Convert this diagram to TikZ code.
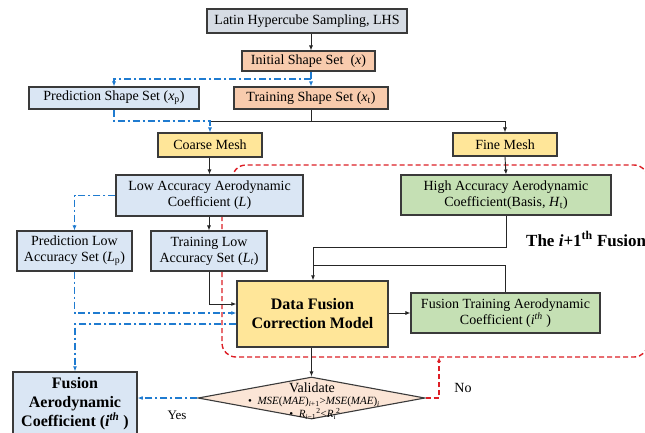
\documentclass[tikz,border=0pt]{standalone}
\usepackage{fontspec}
\setmainfont{Liberation Serif}
\usetikzlibrary{arrows.meta,shapes.geometric}
\definecolor{edge}{HTML}{3A3A3A}
\definecolor{grayfill}{HTML}{D6DCE4}
\definecolor{salmon}{HTML}{F8CBAD}
\definecolor{lightblue}{HTML}{DAE6F4}
\definecolor{mesh}{HTML}{FFE699}
\definecolor{lightgreen}{HTML}{C5E0B4}
\definecolor{peach}{HTML}{FBE5D6}
\definecolor{flowblue}{HTML}{1F7BD0}
\definecolor{loopred}{HTML}{DD1F26}
\begin{document}
\begin{tikzpicture}[x=1pt,y=-1pt,
  box/.style={draw=edge, line width=1.1pt, inner sep=0pt, align=center,
    font=\fontsize{14}{16}\selectfont},
  boldbox/.style={box, font=\fontsize{16}{19}\selectfont\bfseries},
  arr/.style={-{Latex[length=5pt,width=4pt]}},
  link/.style={draw=black!85, line width=0.9pt},
  bluelink/.style={draw=flowblue, line width=1.2pt,
    dash pattern=on 7pt off 3pt on 2pt off 3pt},
  redlink/.style={draw=loopred, line width=1.4pt, dash pattern=on 5pt off 3pt},
  lbl/.style={inner sep=0pt, font=\fontsize{14}{16}\selectfont}
]
\useasboundingbox (0,0) rectangle (645,432);
\clip (0,0) rectangle (645,432);
\fill[white] (0,0) rectangle (645,432);

% iteration loop boundary (drawn first, the boxes cover it)
\draw[redlink, rounded corners=14pt]
  (222,216) -- (222,357) -- (648,357) -- (648,165) -- (232,165) -- (232,190);

% boxes
\node[box, fill=grayfill, minimum width=200, minimum height=24] (lhs) at (307,21) {Latin Hypercube Sampling, LHS};
\node[box, fill=salmon, minimum width=133, minimum height=20] (init) at (308.5,61) {Initial Shape Set~ (\textit{x})};
\node[box, fill=salmon, minimum width=154, minimum height=22] (train) at (311,98) {Training Shape Set (\textit{x}\textsubscript{t})};
\node[box, fill=lightblue, minimum width=170, minimum height=22] (pred) at (114,98) {Prediction Shape Set (\textit{x}\textsubscript{p})};
\node[box, fill=mesh, minimum width=104, minimum height=24] (coarse) at (210,145) {Coarse Mesh};
\node[box, fill=mesh, minimum width=104, minimum height=23] (fine) at (505,144.5) {Fine Mesh};
\node[box, fill=lightblue, minimum width=187, minimum height=41] (low) at (209.5,195.5) {Low Accuracy Aerodynamic\\Coefficient (\textit{L})};
\node[box, fill=lightgreen, minimum width=210, minimum height=40] (high) at (506,195) {High Accuracy Aerodynamic\\Coefficient(Basis, \textit{H}\textsubscript{t})};
\node[box, fill=lightblue, minimum width=115, minimum height=40] (lp) at (74.5,251) {Prediction Low\\Accuracy Set (\textit{L}\textsubscript{p})};
\node[box, fill=lightblue, minimum width=116, minimum height=40] (lt) at (209,251) {Training Low\\Accuracy Set (\textit{L\textsubscript{t}})};
\node[boldbox, fill=mesh, line width=1.3pt, minimum width=151, minimum height=66] (df) at (312.5,314) {Data Fusion\\Correction Model};
\node[box, fill=lightgreen, minimum width=189, minimum height=40] (ft) at (505.5,313) {Fusion Training Aerodynamic\\Coefficient (\textit{i}\textsuperscript{\textit{th}} )};
\node[boldbox, fill=lightblue, line width=1.3pt, minimum width=124, minimum height=64] (fa) at (75,404) {Fusion\\Aerodynamic\\Coefficient (\textit{i}\textsuperscript{\textit{th}} )};
\node[diamond, draw=edge, fill=peach, line width=1.1pt, inner sep=0pt,
  minimum width=227, minimum height=42] (val) at (311.5,398) {};
\node[lbl] (valtitle) at (312,387.5) {Validate};
\node[lbl, font=\fontsize{11}{12}\selectfont] (valone) at (314,402)
  {•~ \textit{MSE}(\textit{MAE})\textsubscript{\textit{i}+1}>\textit{MSE}(\textit{MAE})\textsubscript{\textit{i}}};
\node[lbl, font=\fontsize{11}{12}\selectfont] (valtwo) at (315,414)
  {•~ \textit{R}\textsubscript{\textit{i}−1}\textsuperscript{2}<\textit{R}\textsubscript{\textit{i}}\textsuperscript{2}};

% labels
\node[lbl, font=\fontsize{17}{20}\selectfont\bfseries, anchor=west] (looplabel) at (526,239)
  {The \textit{i}+1\textsuperscript{th} Fusion};
\node[lbl, font=\fontsize{13}{15}\selectfont] (yes) at (177,415) {Yes};
\node[lbl] (no) at (463,388) {No};

% junction points
\coordinate (split) at (train.north |- 0,79);
\coordinate (meshbus) at (train.south |- 0,121);
\coordinate (highbus) at (high.south |- 0,247);
\coordinate (dfin) at (313,247);
\coordinate (ftbus) at (ft.north |- 0,265);
\coordinate (noturn) at (439,398);
\coordinate (noend) at (439,357);

% main flow
\draw[link, arr] (lhs.south -| train) -- (init.north -| train);
\draw[link] (train.south) -- (meshbus);
\draw[link] (coarse.north |- meshbus) -- (fine.north |- meshbus);
\draw[link, arr] (fine.north |- meshbus) -- (fine.north);
\draw[link, arr] (coarse.south -| low) -- (low.north);
\draw[link, arr] (fine.south) -- (high.north);
\draw[link, arr] (low.south -| lt) -- (lt.north);
\draw[link, arr] (lt.south) |- (df.west |- 0,304);
\draw[link] (high.south) -- (highbus) -- (dfin);
\draw[link, arr] (dfin) -- (dfin |- df.north);
\draw[link] (ft.north) -- (ftbus) -- (dfin |- ftbus);
\draw[link, arr] (df.east |- ft) -- (ft.west);
\draw[link, arr] (df.south -| val) -- (val.north);

% prediction branch
\draw[bluelink, arr] (init.south -| train) -- (train.north);
\draw[bluelink, arr] (split) -| (pred.north);
\draw[bluelink, arr] (pred.south) |- (coarse.north |- meshbus) -- (coarse.north);
\draw[bluelink, arr] (low.west) -| (lp.north);
\draw[bluelink, arr] (lp.south) |- (df.west |- 0,313);
\draw[bluelink, arr] (df.west |- 0,324) -| (fa.north);
\draw[bluelink, arr] (val.west) -- (fa.east |- val.west);

% feedback to the next fusion round
\draw[redlink, -{Latex[length=5pt,width=4pt]}] (val.east) -- (noturn) -- (noend);
\end{tikzpicture}
\end{document}
